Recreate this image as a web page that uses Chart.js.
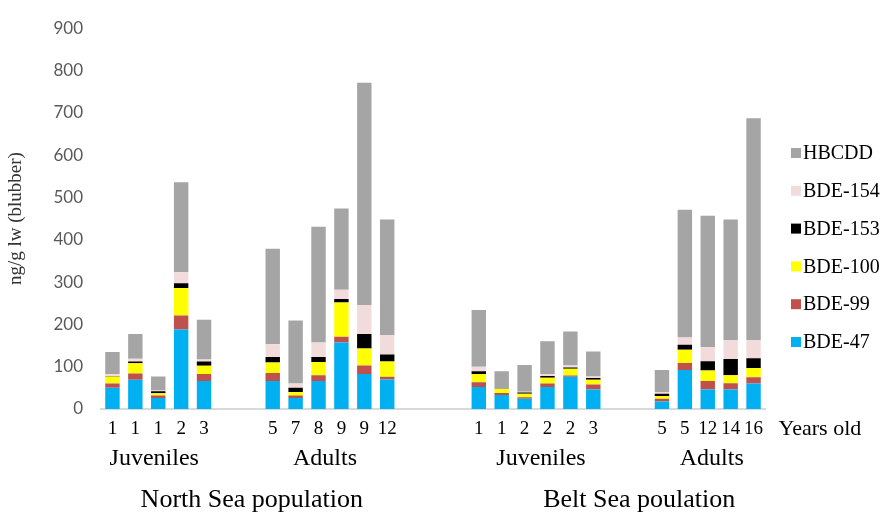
<!DOCTYPE html>
<html>
<head>
<meta charset="utf-8">
<script src="https://cdn.jsdelivr.net/npm/chart.js@4/dist/chart.umd.min.js"></script>
<style>
  html, body { margin: 0; padding: 0; background: #ffffff; }
  #wrap { width: 886px; height: 515px; }
</style>
</head>
<body>
<div id="wrap"><canvas id="c" width="886" height="515"></canvas></div>
<script>
// Ages of the animals sampled; empty strings are spacer slots between groups
const ageLabels = ['1','1','1','2','3','','','5','7','8','9','9','12','','','','1','1','2','2','2','3','','','5','5','12','14','16'];

// Concentrations (ng/g lw, blubber), one value per slot; null = spacer
const bde47  = [50, 69, 26, 188, 66, null, null, 66, 26, 66, 157, 83, 70, null, null, null, 52, 33, 24, 52, 76, 46, null, null, 18, 92, 46, 46, 60];
const bde99  = [10, 15, 6, 33, 17, null, null, 19, 6, 14, 14, 20, 6, null, null, null, 11, 5, 4, 8, 3, 12, null, null, 6, 17, 20, 15, 15];
const bde100 = [17, 24, 5, 65, 19, null, null, 25, 8, 31, 81, 40, 36, null, null, null, 20, 9, 8, 14, 16, 11, null, null, 7, 31, 25, 19, 22];
const bde153 = [1, 4, 5, 11, 10, null, null, 13, 10, 12, 8, 34, 17, null, null, null, 6, 1, 3, 4, 3, 4, null, null, 5, 12, 22, 38, 23];
const bde154 = [5, 7, 2, 26, 5, null, null, 30, 10, 34, 22, 69, 46, null, null, null, 11, 1, 2, 5, 5, 4, null, null, 4, 17, 33, 45, 43];
const hbcdd  = [52, 58, 33, 213, 94, null, null, 226, 149, 274, 192, 525, 273, null, null, null, 134, 40, 63, 77, 80, 59, null, null, 52, 302, 311, 285, 524];

// Age-class groups and populations, given as slot index ranges
const groupNames = ['Juveniles', 'Adults', 'Juveniles', 'Adults'];
const groupFrom  = [0, 7, 16, 24];
const groupTo    = [4, 12, 21, 28];
const popNames   = ['North Sea population', 'Belt Sea poulation'];
const popFrom    = [0, 16];
const popTo      = [12, 28];

const yTicks = [0, 100, 200, 300, 400, 500, 600, 700, 800, 900];

const SERIF = '"Liberation Serif", "Times New Roman", serif';

// caption nudges (px) relative to the centre of each range
const groupShift = [-4, -5, 5, 4];
const popShift   = [2, 23];

const datasets = [
  { label: 'BDE-47',  data: bde47,  backgroundColor: '#00B0F0' },
  { label: 'BDE-99',  data: bde99,  backgroundColor: '#C0504D' },
  { label: 'BDE-100', data: bde100, backgroundColor: '#FFFF00' },
  { label: 'BDE-153', data: bde153, backgroundColor: '#000000' },
  { label: 'BDE-154', data: bde154, backgroundColor: '#F2DCDB' },
  { label: 'HBCDD',   data: hbcdd,  backgroundColor: '#A5A5A5' }
].map(d => Object.assign(d, { barPercentage: 0.63, categoryPercentage: 1.0, borderWidth: 0 }));

// Draws group / population captions, the "Years old" note and the legend
const annotations = {
  id: 'annotations',
  afterDraw(chart) {
    const ctx = chart.ctx;
    const x = chart.scales.x;
    ctx.save();
    ctx.fillStyle = '#000000';
    ctx.textAlign = 'center';
    ctx.textBaseline = 'alphabetic';

    ctx.font = '24px ' + SERIF;
    groupNames.forEach((name, i) => {
      const cx = (x.getPixelForValue(groupFrom[i]) + x.getPixelForValue(groupTo[i])) / 2 + groupShift[i];
      ctx.fillText(name, cx, 465);
    });

    ctx.font = '26px ' + SERIF;
    popNames.forEach((name, i) => {
      const cx = (x.getPixelForValue(popFrom[i]) + x.getPixelForValue(popTo[i])) / 2 + popShift[i];
      ctx.fillText(name, cx, 507);
    });

    ctx.textAlign = 'left';
    ctx.font = '22px ' + SERIF;
    ctx.fillText('Years old', x.getPixelForValue(ageLabels.length - 1) + 25, 435);

    // legend, top entry is the top of the stack
    ctx.font = '20px ' + SERIF;
    ctx.textBaseline = 'middle';
    const items = chart.data.datasets.slice().reverse();
    items.forEach((ds, i) => {
      const cy = 153 + i * 37.8;
      ctx.fillStyle = ds.backgroundColor;
      ctx.fillRect(791, cy - 5, 10, 10);
      ctx.fillStyle = '#000000';
      ctx.fillText(ds.label, 803, cy + 1);
    });
    ctx.restore();
  }
};

new Chart(document.getElementById('c'), {
  type: 'bar',
  data: { labels: ageLabels, datasets },
  options: {
    responsive: false,
    animation: false,
    devicePixelRatio: 1,
    layout: { padding: { top: 20, right: 121, bottom: 0, left: 0 } },
    plugins: { legend: { display: false }, tooltip: { enabled: false } },
    scales: {
      x: {
        stacked: true,
        grid: { display: false, drawTicks: false },
        border: { display: true, color: '#D9D9D9', width: 2 },
        ticks: {
          autoSkip: false, maxRotation: 0, minRotation: 0, padding: 9,
          color: '#000000', font: { family: SERIF, size: 19 }
        },
        afterFit(scale) { scale.height = 106; }
      },
      y: {
        stacked: true,
        min: 0, max: 900,
        afterBuildTicks(scale) { scale.ticks = yTicks.map(v => ({ value: v })); },
        grid: { display: false, drawTicks: false },
        border: { display: false },
        ticks: { padding: 18, color: '#595959', font: { family: 'Lato, "Liberation Sans", sans-serif', size: 17 } },
        title: {
          display: true, text: 'ng/g lw (blubber)', color: '#333333',
          font: { family: SERIF, size: 19 }, padding: { top: 5, bottom: 0 }
        },
        afterFit(scale) { scale.width = 101; }
      }
    }
  },
  plugins: [annotations]
});
</script>
</body>
</html>
